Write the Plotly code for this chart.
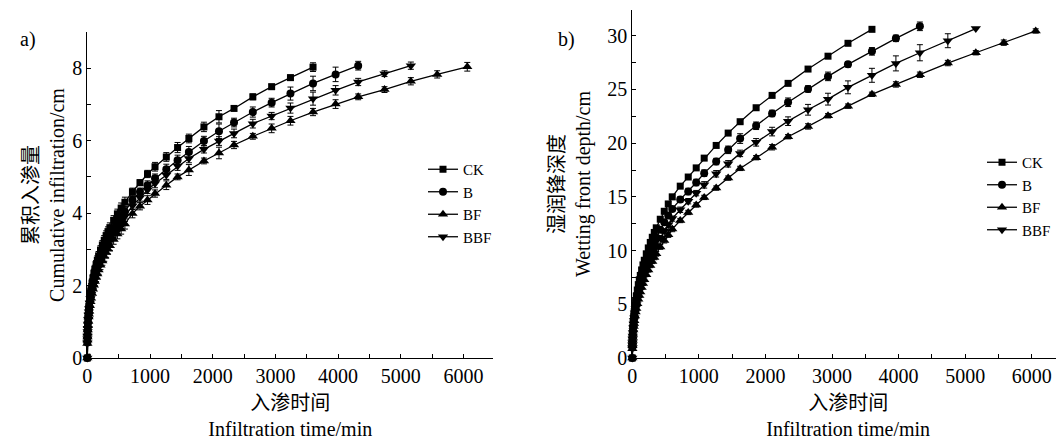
import plotly.graph_objects as go

# ---------------- data ----------------
TIME = [0, 1, 2, 3, 5, 7, 10, 15, 20, 25, 30, 40, 50, 60, 75, 90, 105, 120, 140, 160,
        180, 210, 240, 270, 300, 330, 360, 420, 480, 540, 600, 720, 840, 960, 1080, 1260,
        1440, 1620, 1860, 2100, 2340, 2640, 2940, 3240, 3600, 3960, 4320, 4740, 5160, 5580, 6060]

SERIES = ["CK", "B", "BF", "BBF"]

# (a) cumulative infiltration, cm
CUM_CK = [0, 0.46, 0.58, 0.67, 0.80, 0.90, 1.03, 1.18, 1.31, 1.41, 1.50, 1.67, 1.80, 1.92, 2.07,
          2.21, 2.34, 2.45, 2.58, 2.70, 2.82, 2.98, 3.12, 3.25, 3.38, 3.49, 3.60, 3.80, 3.98, 4.14,
          4.30, 4.59, 4.84, 5.08, 5.28, 5.55, 5.81, 6.06, 6.38, 6.66, 6.89, 7.21, 7.49, 7.74, 8.03]
CUM_B = [0, 0.43, 0.55, 0.63, 0.75, 0.85, 0.97, 1.11, 1.23, 1.33, 1.41, 1.57, 1.69, 1.80, 1.95,
         2.08, 2.20, 2.30, 2.43, 2.54, 2.65, 2.80, 2.93, 3.06, 3.18, 3.28, 3.38, 3.57, 3.74, 3.89,
         4.04, 4.36, 4.59, 4.77, 4.96, 5.21, 5.46, 5.69, 5.99, 6.26, 6.50, 6.79, 7.05, 7.30, 7.58,
         7.83, 8.07]
CUM_BF = [0, 0.40, 0.50, 0.58, 0.69, 0.77, 0.89, 1.01, 1.13, 1.21, 1.29, 1.44, 1.55, 1.65, 1.78,
          1.90, 2.01, 2.11, 2.22, 2.32, 2.43, 2.56, 2.68, 2.80, 2.91, 3.00, 3.10, 3.27, 3.42, 3.56,
          3.70, 3.99, 4.19, 4.36, 4.54, 4.77, 5.00, 5.19, 5.44, 5.66, 5.88, 6.12, 6.34, 6.55, 6.79,
          7.01, 7.21, 7.41, 7.64, 7.83, 8.04]
CUM_BBF = [0, 0.42, 0.53, 0.61, 0.73, 0.82, 0.94, 1.07, 1.19, 1.28, 1.37, 1.52, 1.64, 1.75, 1.88,
           2.01, 2.13, 2.23, 2.35, 2.46, 2.57, 2.71, 2.84, 2.96, 3.08, 3.18, 3.28, 3.46, 3.62, 3.77,
           3.91, 4.20, 4.43, 4.64, 4.82, 5.05, 5.30, 5.51, 5.76, 5.99, 6.20, 6.47, 6.68, 6.90, 7.16,
           7.39, 7.62, 7.85, 8.07]

ERR_EARLY_A = [0.10, 0.05, 0.05, 0.06, 0.06, 0.07, 0.07, 0.08, 0.08, 0.08, 0.09, 0.09, 0.10, 0.10,
               0.10, 0.10, 0.11, 0.11, 0.11, 0.12, 0.12, 0.12, 0.12, 0.13, 0.13, 0.13, 0.13, 0.13,
               0.13, 0.14, 0.14]
CUM_ERR_CK = ERR_EARLY_A + [0.10, 0.08, 0.10, 0.12, 0.12, 0.14, 0.12, 0.13, 0.17, 0.06, 0.08, 0.07,
                            0.07, 0.12]
CUM_ERR_B = ERR_EARLY_A + [0.10, 0.10, 0.12, 0.12, 0.14, 0.14, 0.15, 0.13, 0.20, 0.12, 0.14, 0.12,
                           0.18, 0.20, 0.20, 0.12]
CUM_ERR_BF = ERR_EARLY_A + [0.12, 0.10, 0.12, 0.10, 0.12, 0.08, 0.15, 0.08, 0.16, 0.10, 0.08, 0.12,
                            0.12, 0.10, 0.12, 0.08, 0.08, 0.10, 0.10, 0.12]
CUM_ERR_BBF = ERR_EARLY_A + [0.10, 0.10, 0.10, 0.12, 0.12, 0.12, 0.12, 0.10, 0.12, 0.12, 0.12,
                             0.10, 0.14, 0.18, 0.13, 0.10, 0.08, 0.10]

# (b) wetting front depth, cm
WF_CK = [0, 1.06, 1.41, 1.67, 2.06, 2.37, 2.75, 3.25, 3.66, 4.02, 4.33, 4.88, 5.35, 5.77, 6.33,
         6.83, 7.28, 7.69, 8.20, 8.67, 9.10, 9.70, 10.25, 10.76, 11.24, 11.69, 12.12, 12.92, 13.66,
         14.34, 15.00, 16.00, 16.85, 17.70, 18.61, 19.79, 20.94, 22.00, 23.30, 24.45, 25.57, 26.90,
         28.10, 29.30, 30.60]
WF_B = [0, 0.98, 1.30, 1.54, 1.91, 2.19, 2.54, 3.01, 3.39, 3.72, 4.01, 4.51, 4.95, 5.34, 5.86,
        6.32, 6.73, 7.11, 7.59, 8.02, 8.42, 8.97, 9.48, 9.95, 10.40, 10.81, 11.21, 11.95, 12.64,
        13.26, 13.88, 14.75, 15.50, 16.34, 17.21, 18.29, 19.38, 20.43, 21.62, 22.77, 23.81, 25.05,
        26.22, 27.34, 28.55, 29.76, 30.88]
WF_BF = [0, 0.85, 1.13, 1.34, 1.65, 1.90, 2.20, 2.60, 2.93, 3.22, 3.46, 3.90, 4.28, 4.62, 5.06,
         5.46, 5.82, 6.15, 6.56, 6.94, 7.28, 7.76, 8.20, 8.61, 8.99, 9.35, 9.70, 10.34, 10.93,
         11.47, 12.00, 12.80, 13.55, 14.25, 14.95, 15.82, 16.75, 17.65, 18.65, 19.62, 20.60, 21.56,
         22.55, 23.45, 24.55, 25.47, 26.37, 27.46, 28.42, 29.36, 30.45]
WF_BBF = [0, 0.92, 1.22, 1.44, 1.78, 2.05, 2.38, 2.81, 3.17, 3.48, 3.75, 4.22, 4.63, 4.99, 5.48,
          5.91, 6.30, 6.65, 7.09, 7.50, 7.87, 8.39, 8.87, 9.31, 9.72, 10.11, 10.48, 11.18, 11.82,
          12.40, 12.98, 13.80, 14.60, 15.35, 16.12, 17.15, 18.08, 19.05, 20.08, 21.08, 22.05, 23.11,
          24.10, 25.20, 26.32, 27.43, 28.42, 29.54, 30.67]

ERR_EARLY_B = [0.10, 0.08, 0.08, 0.08, 0.10, 0.10, 0.10, 0.12, 0.12, 0.12, 0.12, 0.14, 0.14, 0.15,
               0.15, 0.15, 0.16, 0.16, 0.16, 0.18, 0.18, 0.18, 0.20, 0.20, 0.20, 0.20, 0.22, 0.22,
               0.22, 0.24, 0.24]
WF_ERR_CK = ERR_EARLY_B + [0.15, 0.15, 0.15, 0.15, 0.15, 0.15, 0.15, 0.15, 0.15, 0.15, 0.15, 0.15,
                           0.15, 0.18]
WF_ERR_B = ERR_EARLY_B + [0.25, 0.30, 0.30, 0.30, 0.30, 0.35, 0.45, 0.35, 0.30, 0.40, 0.30, 0.40,
                          0.25, 0.35, 0.30, 0.40]
WF_ERR_BF = ERR_EARLY_B + [0.20, 0.20, 0.20, 0.20, 0.20, 0.20, 0.20, 0.20, 0.25, 0.20, 0.25, 0.20,
                           0.20, 0.20, 0.25, 0.25, 0.25, 0.20, 0.25, 0.20]
WF_ERR_BBF = ERR_EARLY_B + [0.25, 0.25, 0.25, 0.30, 0.30, 0.30, 0.30, 0.35, 0.40, 0.40, 0.50, 0.55,
                            0.60, 0.65, 0.70, 0.75, 0.65]

SYMBOLS = {"CK": "square", "B": "circle", "BF": "triangle-up", "BBF": "triangle-down"}
SIZES = {"CK": 7, "B": 8, "BF": 9, "BBF": 9}

CUM = {"CK": (CUM_CK, CUM_ERR_CK), "B": (CUM_B, CUM_ERR_B),
       "BF": (CUM_BF, CUM_ERR_BF), "BBF": (CUM_BBF, CUM_ERR_BBF)}
WF = {"CK": (WF_CK, WF_ERR_CK), "B": (WF_B, WF_ERR_B),
      "BF": (WF_BF, WF_ERR_BF), "BBF": (WF_BBF, WF_ERR_BBF)}

FONT = "Liberation Serif, Times New Roman, Noto Sans CJK SC, serif"

# page is 1064x441; the figure div sits 8px in from the page's top-left corner
PAGE_W, PAGE_H, OFF = 1064, 441, 8
W, H = PAGE_W - OFF, PAGE_H - OFF


def px(x):
    return (x - OFF) / W


def py(y):
    return (PAGE_H - y) / H


fig = go.Figure()


def add(name, vals, errs, xa, ya, leg):
    fig.add_trace(go.Scatter(
        x=TIME[:len(vals)], y=vals, mode="lines+markers", name=name,
        xaxis=xa, yaxis=ya, legend=leg, cliponaxis=False,
        line=dict(color="black", width=1.3),
        marker=dict(symbol=SYMBOLS[name], size=SIZES[name], color="black"),
        error_y=dict(type="data", array=errs, color="black", thickness=1, width=3),
    ))


for s in SERIES:
    add(s, CUM[s][0], CUM[s][1], "x", "y", "legend")
for s in SERIES:
    add(s, WF[s][0], WF[s][1], "x2", "y2", "legend2")

axis_common = dict(
    showline=True, linecolor="black", linewidth=1, mirror=False,
    ticks="inside", ticklen=4, tickwidth=1, tickcolor="black",
    showgrid=False, zeroline=False, automargin=False,
    tickfont=dict(family=FONT, size=20, color="black"),
    title_font=dict(family=FONT, size=20, color="black"),
)

fig.update_layout(
    width=W, height=H,
    margin=dict(l=0, r=0, t=0, b=0, autoexpand=False),
    paper_bgcolor="white", plot_bgcolor="white",
    font=dict(family=FONT, size=20, color="black"),
    xaxis=dict(domain=[px(87.3), px(493.3)], range=[0, 6475], anchor="y",
               tick0=0, dtick=1000,
               minor=dict(dtick=500, ticks="inside", ticklen=4, tickcolor="black"),
               title=dict(text="入渗时间<br>Infiltration time/min", standoff=9),
               **axis_common),
    yaxis=dict(domain=[py(358), py(32)], range=[0, 9], anchor="x",
               tick0=0, dtick=2,
               minor=dict(dtick=1, ticks="inside", ticklen=4, tickcolor="black"),
               title=dict(text="累积入渗量<br>Cumulative infiltration/cm", standoff=2),
               **axis_common),
    xaxis2=dict(domain=[px(632.3), 1.0], range=[0, 6485], anchor="y2",
                tick0=0, dtick=1000,
                minor=dict(dtick=500, ticks="inside", ticklen=4, tickcolor="black"),
                title=dict(text="入渗时间<br>Infiltration time/min", standoff=9),
                **axis_common),
    yaxis2=dict(domain=[py(358), py(10)], range=[0, 32.4], anchor="x2",
                tick0=0, dtick=5,
                minor=dict(dtick=2.5, ticks="inside", ticklen=4, tickcolor="black"),
                title=dict(text="湿润锋深度<br>Wetting front depth/cm", standoff=11),
                **axis_common),
    legend=dict(x=px(423), y=py(153), xanchor="left", yanchor="top",
                bgcolor="rgba(0,0,0,0)", font=dict(family=FONT, size=15),
                tracegroupgap=0),
    legend2=dict(x=px(982), y=py(146), xanchor="left", yanchor="top",
                 bgcolor="rgba(0,0,0,0)", font=dict(family=FONT, size=15),
                 tracegroupgap=0),
    showlegend=True,
    annotations=[
        dict(text="a)", x=px(18), y=py(40), xref="paper", yref="paper",
             xanchor="left", yanchor="middle", showarrow=False,
             font=dict(family=FONT, size=20)),
        dict(text="b)", x=px(556), y=py(40), xref="paper", yref="paper",
             xanchor="left", yanchor="middle", showarrow=False,
             font=dict(family=FONT, size=20)),
    ],
)

fig.write_html("out.html")
